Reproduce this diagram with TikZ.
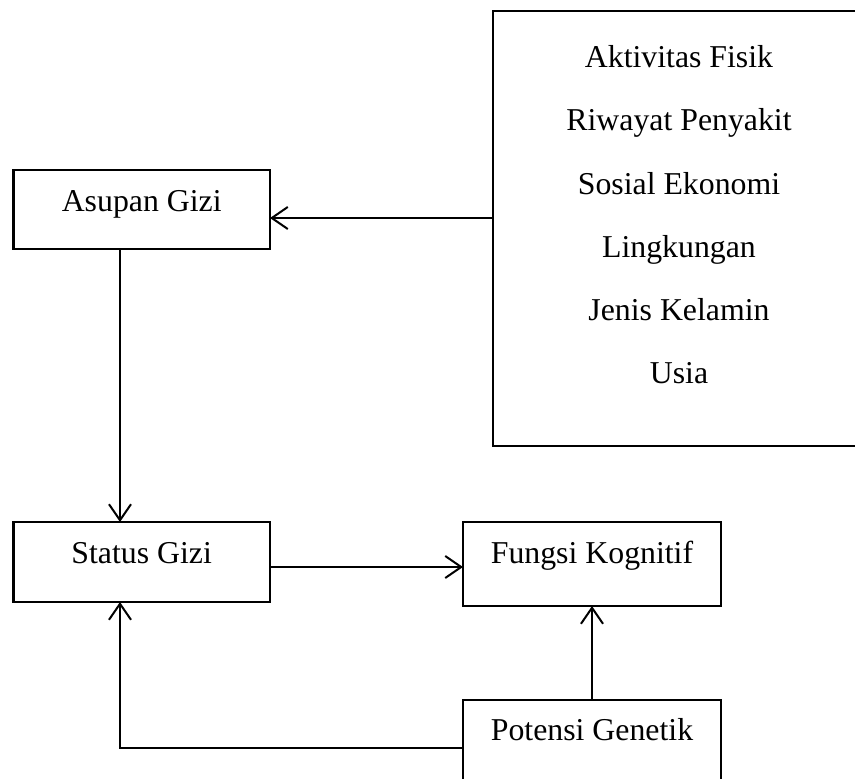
\documentclass[tikz,border=0pt]{standalone}
\usepackage{fontspec}
\setmainfont{Liberation Serif}
\usetikzlibrary{arrows.meta}
\begin{document}
\begin{tikzpicture}[x=1pt,y=-1pt]
\tikzset{
  box/.style={draw, line width=2.2pt, inner sep=0pt, outer sep=0pt},
  lbl/.style={anchor=base, inner sep=0pt, font=\fontsize{31.8}{38}\selectfont},
  conn/.style={line width=2pt, -{Straight Barb[length=16pt,width=22pt,line width=2pt]}}
}
\useasboundingbox (0,0) rectangle (855,779);
\clip (0,0) rectangle (855,779);
% boxes
\node[box, anchor=north west, minimum width=256.5pt, minimum height=79pt] (asupan) at (13.5,170) {};
\node[box, anchor=north west, minimum width=380pt, minimum height=435pt] (faktor) at (493,11) {};
\node[box, anchor=north west, minimum width=256.5pt, minimum height=80pt] (status) at (13.5,522) {};
\node[box, anchor=north west, minimum width=258pt, minimum height=84pt] (fungsi) at (463,522) {};
\node[box, anchor=north west, minimum width=258pt, minimum height=120pt] (potensi) at (463,700) {};
% texts
\node[lbl] (tasupan) at (141.7,211) {Asupan Gizi};
\node[lbl] (t1) at (679,67) {Aktivitas Fisik};
\node[lbl] (t2) at (679,130.5) {Riwayat Penyakit};
\node[lbl] (t3) at (679,194) {Sosial Ekonomi};
\node[lbl] (t4) at (679,257) {Lingkungan};
\node[lbl] (t5) at (679,320) {Jenis Kelamin};
\node[lbl] (t6) at (679,383) {Usia};
\node[lbl] (tstatus) at (141.7,563) {Status Gizi};
\node[lbl] (tfungsi) at (592,563) {Fungsi Kognitif};
\node[lbl] (tpotensi) at (592,740) {Potensi Genetik};
% helper coordinates
\coordinate (ya) at (0,218);
\coordinate (xs) at (120,0);
\coordinate (ys) at (0,567);
\coordinate (yp) at (0,748);
% connectors
\draw[conn] (faktor.west |- ya) -- (asupan.east |- ya);
\draw[conn] (asupan.south -| xs) -- (status.north -| xs);
\draw[conn] (status.east |- ys) -- (fungsi.west |- ys);
\draw[conn] (potensi.north) -- (fungsi.south);
\draw[conn] (potensi.west |- yp) -| (status.south -| xs);
\end{tikzpicture}
\end{document}
